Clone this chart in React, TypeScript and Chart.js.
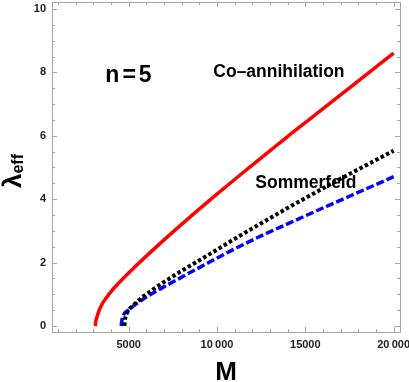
import React, { useEffect, useRef } from "react";
import { Chart, registerables } from "chart.js";

Chart.register(...registerables);

// Co-annihilation (red, solid)
const redM = [3110, 3130, 3210, 3400, 3870, 4430, 5380, 6320, 7640, 9810, 11700, 13960, 15470, 17360, 20000];
const redL = [0, 0.12, 0.29, 0.59, 0.99, 1.35, 1.88, 2.37, 3.03, 4.07, 4.94, 5.96, 6.62, 7.45, 8.61];

// Sommerfeld (black, dotted)
const blackM = [4760, 4780, 4830, 5000, 5280, 5560, 5850, 6320, 6790, 7260, 7740, 9530, 11700, 14150, 16230, 18300, 20000];
const blackL = [0, 0.15, 0.3, 0.5, 0.66, 0.8, 0.94, 1.13, 1.31, 1.48, 1.65, 2.25, 2.98, 3.77, 4.41, 5.03, 5.53];

// third curve (blue, dashed)
const blueM = [4580, 4600, 4714, 5000, 5300, 5846, 6791, 7736, 9525, 10750, 12640, 14150, 16230, 18300, 20000];
const blueL = [0, 0.12, 0.35, 0.5, 0.64, 0.86, 1.17, 1.46, 2.0, 2.36, 2.88, 3.26, 3.78, 4.29, 4.71];

const xTickValues = [5000, 10000, 15000, 20000];
const xTickLabels = ["5000", "10\u2009000", "15000", "20\u2009000"];
const yTickValues = [0, 2, 4, 6, 8, 10];
const yTickLabels = ["0", "2", "4", "6", "8", "10"];

const xMin = 660;
const xMax = 20360;
const yMin = -0.19;
const yMax = 10.22;

const xMinorStep = 1000;
const yMinorStep = 0.5;

const annotations = [
  { text: "n=5", m: 3679, l: 7.7, size: 23, spacing: 3 },
  { text: "Co\u2013annihilation", m: 9791, l: 7.84, size: 17.5, spacing: 0 },
  { text: "Sommerfeld", m: 12168, l: 4.35, size: 17.5, spacing: 0 },
];

const FONT = '"Liberation Sans", Arial, sans-serif';

function pts(ms: number[], ls: number[]) {
  return ms.map((m, i) => ({ x: m, y: ls[i] }));
}

const framePlugin = {
  id: "framePlugin",
  afterDraw(chart: any) {
    const { ctx, chartArea } = chart;
    const { left, right, top, bottom } = chartArea;
    const xs = chart.scales.x;
    const ys = chart.scales.y;
    ctx.save();
    ctx.strokeStyle = "#a6a6a6";
    ctx.lineWidth = 1;
    ctx.strokeRect(Math.round(left) + 0.5, Math.round(top) + 0.5, Math.round(right - left), Math.round(bottom - top));
    ctx.beginPath();
    for (let v = xMinorStep; v <= xMax; v += xMinorStep) {
      if (v < xMin) continue;
      const px = Math.round(xs.getPixelForValue(v)) + 0.5;
      const major = v % 5000 === 0;
      const len = major ? 5 : 3;
      ctx.moveTo(px, bottom);
      ctx.lineTo(px, bottom - len);
      ctx.moveTo(px, top);
      ctx.lineTo(px, top + len);
    }
    for (let v = 0; v <= yMax + 1e-9; v += yMinorStep) {
      const py = Math.round(ys.getPixelForValue(v)) + 0.5;
      const major = Math.abs(v % 2) < 1e-9;
      const len = major ? 5 : 3;
      ctx.moveTo(left, py);
      ctx.lineTo(left + len, py);
      ctx.moveTo(right, py);
      ctx.lineTo(right - len, py);
    }
    ctx.stroke();

    ctx.fillStyle = "#000";
    ctx.textBaseline = "alphabetic";
    ctx.textAlign = "left";
    for (const a of annotations) {
      ctx.font = `bold ${a.size}px ${FONT}`;
      (ctx as any).letterSpacing = `${a.spacing}px`;
      ctx.fillText(a.text, xs.getPixelForValue(a.m), ys.getPixelForValue(a.l));
    }
    (ctx as any).letterSpacing = "0px";

    ctx.font = `bold 26px ${FONT}`;
    ctx.textAlign = "center";
    ctx.fillText("M", (left + right) / 2, 380);

    ctx.translate(21, 171);
    ctx.rotate(-Math.PI / 2);
    ctx.textAlign = "left";
    ctx.font = `bold 26px ${FONT}`;
    const wl = ctx.measureText("\u03bb").width;
    ctx.font = `bold 16px ${FONT}`;
    const we = ctx.measureText("eff").width;
    const start = -(wl + we) / 2;
    ctx.font = `bold 26px ${FONT}`;
    ctx.fillText("\u03bb", start, 0);
    ctx.font = `bold 16px ${FONT}`;
    ctx.fillText("eff", start + wl, 2);
    ctx.restore();
  },
};

export default function App() {
  const ref = useRef<HTMLCanvasElement | null>(null);
  useEffect(() => {
    document.body.style.margin = "0";
    const canvas = ref.current;
    if (!canvas) return;
    const chart = new Chart(canvas, {
      type: "scatter",
      data: {
        datasets: [
          {
            label: "Sommerfeld",
            data: pts(blackM, blackL),
            showLine: true,
            borderColor: "#000",
            borderWidth: 4,
            borderDash: [3.5, 2.5],
            pointRadius: 0,
            cubicInterpolationMode: "monotone",
            borderCapStyle: "butt",
          },
          {
            label: "blue",
            data: pts(blueM, blueL),
            showLine: true,
            borderColor: "#0000ff",
            borderWidth: 3.5,
            borderDash: [8, 3],
            pointRadius: 0,
            cubicInterpolationMode: "monotone",
            borderCapStyle: "butt",
          },
          {
            label: "Co-annihilation",
            data: pts(redM, redL),
            showLine: true,
            borderColor: "#ff0000",
            borderWidth: 3.5,
            pointRadius: 0,
            cubicInterpolationMode: "monotone",
          },
        ],
      } as any,
      options: {
        animation: false,
        responsive: false,
        events: [],
        layout: { padding: { top: 2, right: 9, left: 0, bottom: 0 } },
        plugins: { legend: { display: false }, tooltip: { enabled: false }, title: { display: false } },
        scales: {
          x: {
            type: "linear",
            min: xMin,
            max: xMax,
            grid: { display: false, drawTicks: false },
            border: { display: false },
            afterFit: (s: any) => {
              s.height = 50;
              s.paddingLeft = 0;
              s.paddingRight = 0;
              s.paddingTop = 0;
              s.paddingBottom = 0;
            },
            afterBuildTicks: (s: any) => {
              s.ticks = xTickValues.map((v) => ({ value: v }));
            },
            ticks: {
              padding: 6,
              maxRotation: 0,
              autoSkip: false,
              color: "#222",
              font: { family: FONT, size: 11, weight: "bold" },
              callback: (v: any) => {
                const i = xTickValues.indexOf(Number(v));
                return i >= 0 ? xTickLabels[i] : "";
              },
            },
          },
          y: {
            type: "linear",
            min: yMin,
            max: yMax,
            grid: { display: false, drawTicks: false },
            border: { display: false },
            afterFit: (s: any) => {
              s.width = 52;
              s.paddingLeft = 0;
              s.paddingRight = 0;
              s.paddingTop = 0;
              s.paddingBottom = 0;
            },
            afterBuildTicks: (s: any) => {
              s.ticks = yTickValues.map((v) => ({ value: v }));
            },
            ticks: {
              padding: 6,
              autoSkip: false,
              color: "#222",
              font: { family: FONT, size: 11, weight: "bold" },
              callback: (v: any) => {
                const i = yTickValues.indexOf(Number(v));
                return i >= 0 ? yTickLabels[i] : "";
              },
            },
          },
        },
      } as any,
      plugins: [framePlugin],
    });
    return () => chart.destroy();
  }, []);
  return (
    <div style={{ width: 409, height: 382, background: "#fff" }}>
      <canvas ref={ref} width={409} height={382} style={{ display: "block" }} />
    </div>
  );
}
